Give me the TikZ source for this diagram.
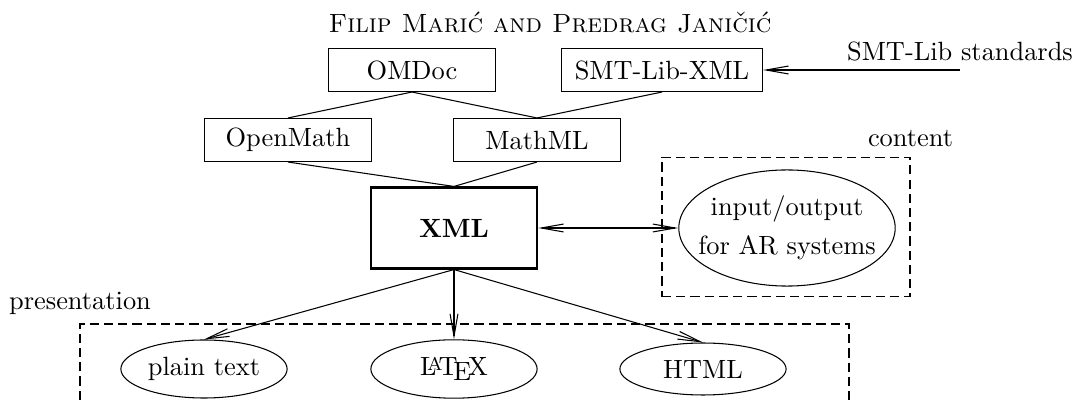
\documentclass[tikz,border=0pt]{standalone}
\usepackage{tikz}
\usetikzlibrary{arrows}
\usetikzlibrary{arrows.meta}
\usetikzlibrary{shapes.geometric}

\begin{document}
\begin{tikzpicture}[x=0.379pt,y=-0.379pt,
  >={Straight Barb[length=8.5pt,width=3pt]},
  fmt/.style={draw,minimum width=63.3pt,minimum height=16.3pt},
  outfmt/.style={draw,ellipse,inner xsep=0pt,minimum width=63pt,minimum height=19.7pt},
  framebox/.style={dash pattern=on 3.5pt off 1.9pt}]
\useasboundingbox (0,0) rectangle (1077,405);
\node[anchor=base] (head) at (550,33) {\textsc{Filip Marić and Predrag Janičić}};
\node[fmt] (omdoc) at (412,70) {OMDoc};
\node[fmt,minimum width=76.2pt] (smtxml) at (662,70) {SMT-Lib-XML};
\node[anchor=south] (smtstd) at (960,70) {SMT-Lib standards};
\node[fmt] (openmath) at (288,140) {OpenMath};
\node[fmt] (mathml) at (537,140) {MathML};
\node[draw,thick,minimum width=63pt,minimum height=30.7pt] (xml) at (454,228) {\textbf{XML}};
\node[draw,framebox,minimum width=94pt,minimum height=53pt] (contentbox) at (786,227) {};
\node[anchor=south] (contentlbl) at (contentbox.north east) {content};
\node[draw,ellipse,align=center,inner xsep=-6pt,inner ysep=0pt,minimum width=82pt,minimum height=44pt] (io) at (787,228) {input/output\\[3pt]for AR systems};
\coordinate (presnw) at (80,324);
\coordinate (presne) at (849,324);
\node[anchor=south] (preslbl) at (presnw) {presentation};
\node[outfmt] (plain) at (204,369) {plain text};
\node[outfmt] (latex) at (454,369) {\LaTeX};
\node[outfmt] (html) at (703,369) {HTML};
\draw[framebox] (presnw) ++(0,90) |- (presne) -- ++(0,90);
\draw (omdoc.south) -- (openmath.north);
\draw (omdoc.south) -- (mathml.north);
\draw (smtxml.south) -- (mathml.north);
\draw (openmath.south) -- (xml.north);
\draw (mathml.south) -- (xml.north);
\draw[->] (smtstd.south) -- (smtxml.east);
\draw[<->] (xml.east) -- (io.west);
\draw[->] (xml.south) -- (plain.north);
\draw[->] (xml.south) -- (latex.north);
\draw[->] (xml.south) -- (html.north);
\end{tikzpicture}
\end{document}
